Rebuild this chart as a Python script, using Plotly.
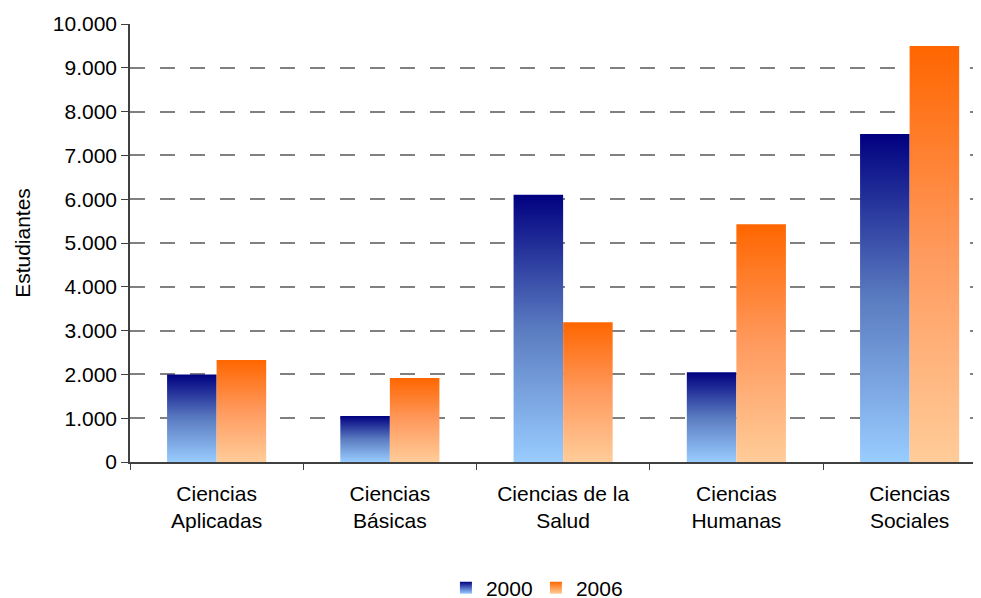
import plotly.graph_objects as go

# Datos
categorias = ["Ciencias<br>Aplicadas", "Ciencias<br>Básicas", "Ciencias de la<br>Salud",
              "Ciencias<br>Humanas", "Ciencias<br>Sociales"]
anios = ["2000", "2006"]
estudiantes_2000 = [2000, 1050, 6100, 2050, 7490]
estudiantes_2006 = [2330, 1920, 3190, 5430, 9500]
ticks_y = [0, 1000, 2000, 3000, 4000, 5000, 6000, 7000, 8000, 9000, 10000]

series = [estudiantes_2000, estudiantes_2006]

# degradado vertical: abajo claro, arriba oscuro
degradados = {
    "2000": [[0, "#99CCFF"], [0.5, "#5A7BC0"], [1, "#000080"]],
    "2006": [[0, "#FFCC99"], [0.5, "#FF9A5E"], [1, "#FF6600"]],
}
color_base = {"2000": "#000080", "2006": "#FF6600"}
color_claro = {"2000": "#99CCFF", "2006": "#FFCC99"}

ancho = 0.286  # ancho de cada barra en unidades de categoría
fuente = "Liberation Sans, Arial, sans-serif"

fig = go.Figure()

# Barras dibujadas como rectángulos rellenos con degradado
for s, (anio, valores) in enumerate(zip(anios, series)):
    for i, v in enumerate(valores):
        x0 = i - ancho + s * ancho
        x1 = x0 + ancho
        fig.add_trace(go.Scatter(
            x=[x0, x1, x1, x0, x0],
            y=[0, 0, v, v, 0],
            mode='lines',
            fill='toself',
            fillgradient=dict(type='vertical', colorscale=degradados[anio]),
            line=dict(width=0),
            name=anio,
            showlegend=False,
            hoverinfo='text',
            text=f"{anio}: {v}",
        ))

# Entradas de leyenda
for anio in anios:
    fig.add_trace(go.Scatter(
        x=[None], y=[None],
        mode='markers',
        name=anio,
        marker=dict(symbol='square', size=12, color=color_base[anio],
                    gradient=dict(type='vertical', color=color_claro[anio])),
    ))

n = len(categorias)
fig.update_layout(
    width=981, height=598,
    margin=dict(l=122, r=8, t=16, b=144),
    paper_bgcolor='white',
    plot_bgcolor='white',
    separators=',.',
    font=dict(family=fuente, size=21, color='#000000'),
    showlegend=True,
    legend=dict(
        orientation='h',
        x=0.477, xanchor='center',
        yref='container',
        y=0.03, yanchor='middle',
        font=dict(size=21),
        itemwidth=30,
        entrywidth=45,
        tracegroupgap=0,
    ),
    xaxis=dict(
        range=[-0.5, 4.412],
        tickmode='array',
        tickvals=list(range(n)),
        ticktext=categorias,
        ticks='',
        ticklabelstandoff=12,
        showgrid=False,
        zeroline=False,
        showline=True,
        linecolor='#404040',
        linewidth=1.5,
        automargin=False,
        minor=dict(
            tickmode='array',
            tickvals=[i - 0.5 for i in range(n)],
            ticks='outside',
            ticklen=6,
            tickcolor='#404040',
            tickwidth=1,
            showgrid=False,
        ),
        fixedrange=True,
    ),
    yaxis=dict(
        range=[0, 10000],
        tickmode='array',
        tickvals=ticks_y,
        tickformat=',d',
        ticks='outside',
        ticklen=7,
        tickcolor='#404040',
        showline=True,
        linecolor='#404040',
        linewidth=1.5,
        showgrid=True,
        gridcolor='#808080',
        gridwidth=1.5,
        griddash='15px,15px',
        zeroline=False,
        automargin=False,
        title=dict(text='Estudiantes', font=dict(size=21), standoff=16),
        fixedrange=True,
    ),
)

fig.write_html("out.html")
